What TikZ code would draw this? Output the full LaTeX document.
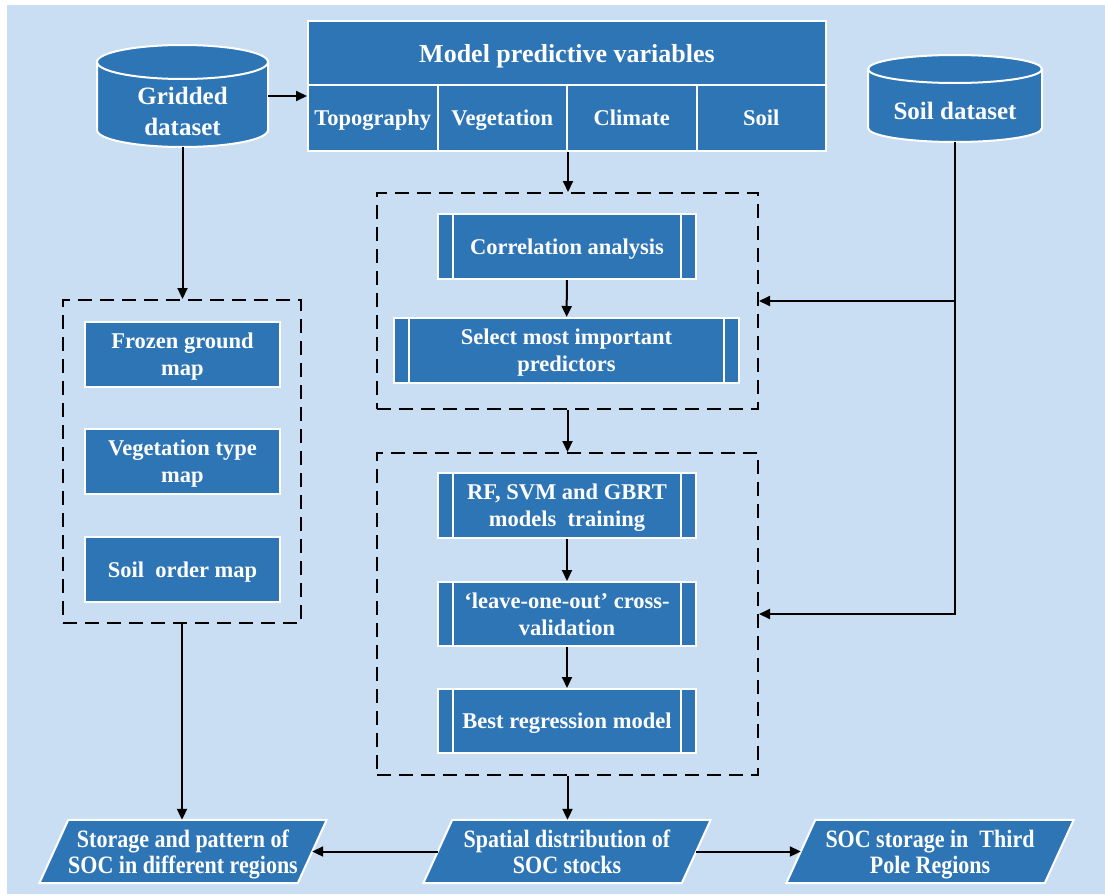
\documentclass[tikz,border=0pt]{standalone}
\usepackage{fontspec}
\setmainfont{Liberation Serif}
\newfontfamily\condfont{Liberation Serif}[FakeStretch=0.88]
\usetikzlibrary{arrows.meta,backgrounds}
\definecolor{bgc}{RGB}{201,222,242}
\definecolor{boxc}{RGB}{46,117,182}
\tikzset{
  box/.style={draw=white, line width=2pt, fill=boxc, text=white, text depth=0pt,
    font=\bfseries\fontsize{22.5}{27}\selectfont, align=center, inner sep=0pt},
  proc/.style={box, path picture={
    \draw[white,line width=2pt] ([xshift=15pt]path picture bounding box.north west) -- ([xshift=15pt]path picture bounding box.south west);
    \draw[white,line width=2pt] ([xshift=-15pt]path picture bounding box.north east) -- ([xshift=-15pt]path picture bounding box.south east);}},
  dbox/.style={draw=black, line width=2pt, dash pattern=on 14pt off 8pt, inner sep=0pt},
  arr/.style={line width=2pt, -{Triangle[length=11pt,width=10pt]}},
  cyl/.style={fill=boxc, draw=white, line width=2pt},
  cyltext/.style={text=white, font=\bfseries\fontsize{25}{31}\selectfont, align=center, inner sep=0pt},
  paratext/.style={text=white, text depth=0pt, font=\condfont\bfseries\fontsize{25}{26}\selectfont, align=center,
    inner sep=0pt, minimum width=258, minimum height=63},
  para/.style={fill=boxc, draw=white, line width=2pt}
}
\begin{document}
\begin{tikzpicture}[x=1pt,y=-1pt]
\useasboundingbox (0,0) rectangle (1105,894);
\begin{scope}[on background layer]
\fill[bgc] (7,5) rectangle (1105,894);
\end{scope}

% Gridded dataset cylinder
\draw[cyl] (97,62) -- (97,130) arc[start angle=180,end angle=360,x radius=85.5pt,y radius=17pt]
  -- (268,62) arc[start angle=0,end angle=180,x radius=85.5pt,y radius=17pt] -- cycle;
\draw[white,line width=2pt] (97,62) arc[start angle=180,end angle=360,x radius=85.5pt,y radius=17pt];
\node[inner sep=0pt, minimum width=171, minimum height=102] (grid) at (182.5,96) {};
\node[cyltext] (gridtxt) at (182.5,111) {Gridded\\dataset};

% Soil dataset cylinder
\draw[cyl] (868,69) -- (868,128) arc[start angle=180,end angle=360,x radius=87pt,y radius=14pt]
  -- (1042,69) arc[start angle=0,end angle=180,x radius=87pt,y radius=14pt] -- cycle;
\draw[white,line width=2pt] (868,69) arc[start angle=180,end angle=360,x radius=87pt,y radius=14pt];
\node[inner sep=0pt, minimum width=174, minimum height=87] (soilds) at (955,98.5) {};
\node[cyltext] (soildstxt) at (955,111) {Soil dataset};

% Model predictive variables
\node[box, minimum width=518, minimum height=64, font=\bfseries\fontsize{26}{30}\selectfont] (mpv) at (567,53) {Model predictive variables};
\node[box, minimum width=129.5, minimum height=66] (topo) at (372.75,118) {Topography};
\node[box, minimum width=129.5, minimum height=66] (veg) at (502.25,118) {Vegetation};
\node[box, minimum width=129.5, minimum height=66] (clim) at (631.75,118) {Climate};
\node[box, minimum width=129.5, minimum height=66] (soil) at (761.25,118) {Soil};

% dashed containers
\node[dbox, minimum width=238, minimum height=323] (leftbox) at (182,461.5) {};
\node[dbox, minimum width=381, minimum height=216] (box1) at (567.5,301) {};
\node[dbox, minimum width=381, minimum height=322] (box2) at (567.5,614) {};

% left maps
\node[box, minimum width=195, minimum height=65] (frozen) at (182.5,354.5) {Frozen ground\\map};
\node[box, minimum width=195, minimum height=65] (vegtype) at (182.5,461.5) {Vegetation type\\map};
\node[box, minimum width=195, minimum height=65] (soilorder) at (182.5,569.5) {Soil\ \ order map};

% process boxes
\node[proc, minimum width=258, minimum height=65] (corr) at (567,246.5) {Correlation analysis};
\node[proc, minimum width=345, minimum height=65] (sel) at (566.5,350.5) {Select most important\\predictors};
\node[proc, minimum width=258, minimum height=65] (rf) at (567,505.5) {RF, SVM and GBRT\\models\ \ training};
\node[proc, minimum width=258, minimum height=64] (loo) at (567,614) {‘leave-one-out’ cross-\\validation};
\node[proc, minimum width=258, minimum height=64] (best) at (567,721) {Best regression model};

% bottom parallelograms
\node[paratext] (stor) at (183,851.5) {Storage and pattern of\\SOC in different regions};
\node[paratext] (spat) at (567,851.5) {Spatial distribution of\\SOC stocks};
\node[paratext] (third) at (930,851.5) {SOC storage in\ \ Third\\Pole Regions};
\begin{scope}[on background layer]
\foreach \n in {stor,spat,third}{
  \draw[para] ([xshift=14.5pt]\n.north west) -- ([xshift=14.5pt]\n.north east)
    -- ([xshift=-14.5pt]\n.south east) -- ([xshift=-14.5pt]\n.south west) -- cycle;
}
\end{scope}

% connectors
\draw[arr] (grid.east) -- (grid.east -| topo.west);
\draw[arr] (grid.south) -- (grid.south |- leftbox.north);
\draw[arr] (veg.south east) -- (veg.south east |- box1.north);
\draw[arr] (corr) -- (sel);
\draw[arr] (box1.south) -- (box2.north);
\draw[arr] (rf) -- (loo);
\draw[arr] (loo) -- (best);
\draw[arr] (soilds.south) |- (box2.east);
\draw[arr] (soilds.south |- box1.east) -- (box1.east);
\draw[arr] (leftbox.south) -- (leftbox.south |- stor.north);
\draw[arr] (box2.south) -- (box2.south |- spat.north);
\draw[arr] (spat) -- (stor);
\draw[arr] (spat) -- (third);
\end{tikzpicture}
\end{document}
